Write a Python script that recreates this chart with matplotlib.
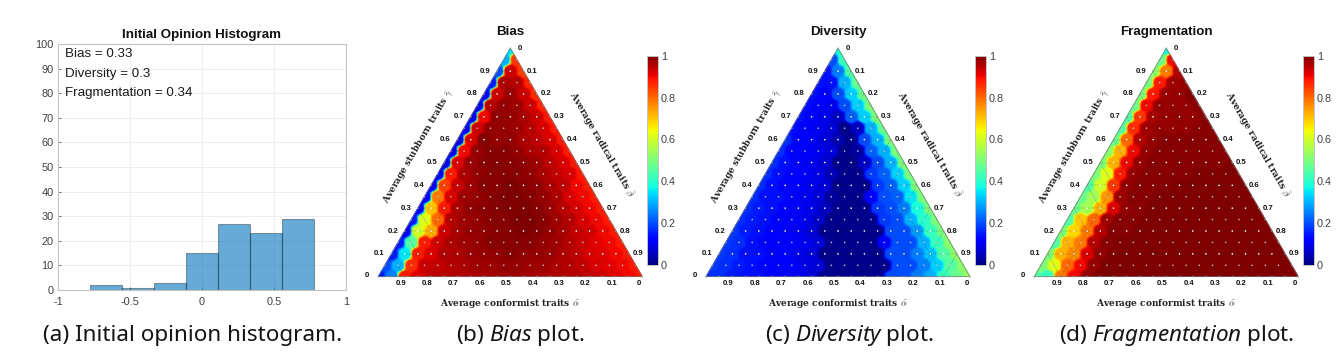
import numpy as np
import matplotlib
matplotlib.use("Agg")
import matplotlib.pyplot as plt
import matplotlib.tri as mtri

W, H = 1344, 361

# histogram
hist_edges = [-0.78, -0.557, -0.334, -0.111, 0.111, 0.334, 0.557, 0.78]
hist_counts = [2, 1, 3, 15, 27, 23, 29]
hist_notes = ["Bias = 0.33", "Diversity = 0.3", "Fragmentation = 0.34"]

# ternary values, one list per row from the apex down to the base
bias_rows = [
    [.35],
    [.3, .85],
    [.2, .93, .84],
    [.15, .96, .95, .87],
    [.12, .93, .97, .93, .86],
    [.1, .95, .98, .97, .93, .87],
    [.1, .9, .98, .98, .96, .93, .88],
    [.1, .93, .98, .98, .97, .95, .92, .88],
    [.1, .92, .99, .98, .98, .96, .94, .92, .88],
    [.1, .9, .98, .99, .99, .98, .96, .95, .92, .88],
    [.1, .92, .97, .99, .99, .99, .98, .97, .94, .92, .88],
    [.1, .88, .96, .98, .99, .99, .99, .98, .96, .94, .92, .88],
    [.12, .84, .93, .97, .99, .99, 1, .99, .98, .96, .94, .9, .88],
    [.12, .78, .92, .97, .98, .99, 1, 1, .99, .98, .96, .92, .9, .88],
    [.12, .7, .88, .96, .98, .99, .99, 1, 1, .99, .97, .95, .92, .9, .88],
    [.15, .62, .8, .95, .97, .98, .99, .99, 1, 1, .99, .97, .95, .92, .9, .88],
    [.1, .6, .72, .93, .96, .98, .98, .99, .99, 1, .99, .98, .96, .94, .92, .9, .88],
    [.15, .45, .88, .93, .96, .97, .98, .99, .99, .99, .99, .98, .97, .95, .93, .91, .9, .88],
    [.15, .35, .88, .92, .95, .96, .97, .98, .98, .99, .98, .98, .97, .96, .94, .92, .91, .9, .88],
    [.2, .3, .86, .93, .94, .95, .96, .97, .97, .98, .98, .97, .97, .96, .95, .94, .92, .91, .9, .88],
    [.15, .25, .88, .92, .94, .95, .95, .96, .96, .97, .97, .97, .96, .96, .95, .95, .94, .93, .91, .9, .88],
]
diversity_rows = [
    [.38],
    [.2, .42],
    [.14, .25, .45],
    [.14, .14, .3, .47],
    [.14, .11, .2, .33, .48],
    [.14, .11, .1, .2, .33, .5],
    [.14, .11, .1, .06, .22, .33, .5],
    [.14, .11, .1, .08, .015, .06, .3, .47],
    [.17, .12, .11, .08, .05, .015, .2, .3, .5],
    [.17, .12, .11, .1, .08, .015, .03, .22, .3, .5],
    [.17, .14, .11, .1, .08, .015, .015, .06, .2, .3, .5],
    [.17, .14, .12, .11, .09, .05, .015, .015, .18, .22, .33, .5],
    [.17, .14, .12, .11, .1, .08, .015, .015, .015, .18, .22, .33, .5],
    [.17, .14, .14, .11, .1, .08, .03, .015, .015, .12, .2, .22, .35, .5],
    [.17, .15, .14, .12, .11, .09, .06, .015, .015, .015, .18, .2, .25, .38, .5],
    [.17, .15, .14, .12, .11, .1, .07, .015, .015, .015, .015, .18, .2, .3, .4, .5],
    [.18, .15, .14, .12, .11, .1, .08, .015, .015, .015, .015, .015, .2, .2, .28, .42, .5],
    [.18, .17, .14, .12, .12, .11, .1, .08, .015, .015, .015, .015, .12, .2, .2, .3, .42, .52],
    [.18, .17, .14, .14, .12, .11, .1, .08, .015, .015, .015, .015, .015, .2, .2, .25, .32, .45, .52],
    [.18, .17, .15, .14, .12, .12, .11, .09, .08, .015, .015, .015, .015, .015, .2, .2, .25, .33, .45, .52],
    [.17, .17, .15, .14, .14, .12, .11, .1, .08, .015, .015, .015, .015, .015, .2, .2, .25, .3, .42, .48, .54],
]
fragmentation_rows = [
    [.38],
    [.48, .9],
    [.52, .78, .95],
    [.5, .88, .97, .98],
    [.5, .88, .97, .98, .99],
    [.48, .9, .98, .98, .98, .99],
    [.45, .85, .96, .98, .98, .98, .99],
    [.45, .86, .97, .98, .98, .98, .99, .99],
    [.48, .8, .95, .98, .99, .99, .99, .99, .99],
    [.52, .72, .9, .98, .99, .99, .99, .99, .99, .99],
    [.5, .72, .9, .98, .99, .99, .99, .99, .99, .99, 1],
    [.5, .62, .88, .98, .99, .99, .99, .99, 1, 1, 1, 1],
    [.45, .6, .85, .98, .99, .99, .99, 1, 1, 1, 1, 1, 1],
    [.48, .55, .75, .97, .99, .99, 1, 1, 1, 1, 1, 1, 1, 1],
    [.48, .55, .72, .92, .98, .99, 1, 1, 1, 1, 1, 1, 1, 1, 1],
    [.45, .7, .8, .97, .99, .99, 1, 1, 1, 1, 1, 1, 1, 1, 1, 1],
    [.5, .68, .78, .95, .99, .99, 1, 1, 1, 1, 1, 1, 1, 1, 1, 1, 1],
    [.45, .72, .78, .95, .99, 1, 1, 1, 1, 1, 1, 1, 1, 1, 1, 1, 1, 1],
    [.5, .72, .76, .92, .98, 1, 1, 1, 1, 1, 1, 1, 1, 1, 1, 1, 1, 1, 1],
    [.5, .62, .8, .9, .98, 1, 1, 1, 1, 1, 1, 1, 1, 1, 1, 1, 1, 1, 1, 1],
    [.45, .42, .78, .9, .98, 1, 1, 1, 1, 1, 1, 1, 1, 1, 1, 1, 1, 1, 1, 1, 1],
]

tern_ticks = [0.1, 0.2, 0.3, 0.4, 0.5, 0.6, 0.7, 0.8, 0.9]
cbar_ticks = [0, 0.2, 0.4, 0.6, 0.8, 1]

plt.rcParams["font.family"] = ["Liberation Sans", "DejaVu Sans"]
plt.rcParams["mathtext.fontset"] = "custom"
plt.rcParams["mathtext.rm"] = "Noto Sans"
plt.rcParams["mathtext.it"] = "Noto Sans:italic"

TICK = "#404040"
FRAME = "#c4c4c4"
SIDE = 264.0
ROOT3 = np.sqrt(3) / 2


def px_axes(fig, left, top, right, bottom):
    return fig.add_axes([left / W, 1 - bottom / H, (right - left) / W, (bottom - top) / H])


def plot_hist(fig):
    ax = px_axes(fig, 58, 44, 346, 290)
    ax.bar(hist_edges[:-1], hist_counts, width=np.diff(hist_edges), align="edge",
           color=(0, 0.447, 0.741, 0.6), edgecolor=(0, 0, 0, 0.35), linewidth=0.8, zorder=2)
    ax.set_xlim(-1, 1)
    ax.set_ylim(0, 100)
    ax.set_xticks([-1, -0.5, 0, 0.5, 1])
    ax.set_xticklabels(["-1", "-0.5", "0", "0.5", "1"])
    ax.set_yticks(range(0, 101, 10))
    ax.tick_params(labelsize=7.9, colors=TICK, length=2, width=0.5, direction="in", pad=3)
    ax.tick_params(axis="x", pad=5)
    ax.grid(color="#eeeeee", linewidth=0.7)
    ax.set_axisbelow(True)
    for s in ax.spines.values():
        s.set_color(FRAME)
    ax.set_title("Initial Opinion Histogram", fontsize=9.6, fontweight="bold", pad=4, color="#111111")
    for note, y in zip(hist_notes, [96, 88, 80]):
        ax.text(-0.95, y, note, fontsize=9.6, va="center", color="#1a1a1a")


def cell_field(fine, xs, ys, zs):
    # each fine point mostly takes the value of its nearest grid point
    dx = fine.x[:, None] - np.array(xs)[None, :]
    dy = fine.y[:, None] - np.array(ys)[None, :]
    d2 = dx ** 2 + dy ** 2 + 1e-9
    w = d2 ** -5.0
    return (w * np.array(zs)).sum(axis=1) / w.sum(axis=1)


def plot_ternary(fig, rows, title, left):
    # triangle base runs from left to left + SIDE, base at y=276.7, apex at y=48.3
    ax = px_axes(fig, left, 48.3, left + SIDE, 276.7)
    ax.set_xlim(0, 1)
    ax.set_ylim(0, ROOT3)
    ax.axis("off")

    n = len(rows) - 1
    xs, ys, zs, dots, index = [], [], [], [], {}
    for r, row in enumerate(rows):
        for j, v in enumerate(row):
            index[(r, j)] = len(xs)
            xs.append(0.5 + (j - r / 2) / n)
            ys.append((n - r) / n * ROOT3)
            zs.append(v)
            if j == 0 or j == r or r == n:
                dots.append("#999999")
            else:
                dots.append("white" if r % 2 == 0 else "#bbbbbb")
    tris = []
    for r in range(n):
        for j in range(r + 1):
            tris.append([index[(r, j)], index[(r + 1, j)], index[(r + 1, j + 1)]])
            if j < r:
                tris.append([index[(r, j)], index[(r + 1, j + 1)], index[(r, j + 1)]])
    tri = mtri.Triangulation(xs, ys, tris)
    fine = mtri.UniformTriRefiner(tri).refine_triangulation(subdiv=4)
    mesh = ax.tripcolor(fine, cell_field(fine, xs, ys, zs), shading="gouraud", cmap="jet", vmin=0, vmax=1)

    # grid lines every 0.1
    for t in tern_ticks:
        h = t * ROOT3
        line = dict(color="#333333", lw=0.35, alpha=0.55, ls=(0, (3, 2)))
        ax.plot([t / 2, 1 - t / 2], [h, h], **line)
        ax.plot([t, 0.5 + t / 2], [0, (1 - t) * ROOT3], **line)
        ax.plot([t, t / 2], [0, h], **line)
    ax.plot([0, 1, 0.5, 0], [0, 0, ROOT3, 0], color="#777777", lw=0.5, clip_on=False)
    ax.scatter(xs, ys, s=1.4, c=dots, edgecolors="none", zorder=3, clip_on=False)

    u = 1 / SIDE
    small = dict(fontsize=5.6, fontweight="bold", ha="center", va="center", color="#111111")
    for t in tern_ticks:
        ax.text(t / 2 - 12 * u, t * ROOT3, f"{t:.1f}", **small)
        ax.text(0.5 + t / 2 + 9 * u, (1 - t) * ROOT3, f"{t:.1f}", **small)
        ax.text(1 - t - 4 * u, -7 * u, f"{t:.1f}", **small)
    ax.text(-11 * u, 1 * u, "0", **small)
    ax.text(0.5 + 10 * u, ROOT3, "0", **small)
    ax.text(1 - 3.5 * u, -7 * u, "0", **small)

    lab = dict(fontsize=6.5, family="DejaVu Serif", fontweight="bold", ha="center", va="center",
               math_fontfamily="cm", color="#222222")
    ax.text(131.7 * u, -27 * u, r"Average conformist traits $\bar{\alpha}$", **lab)
    ax.text(40 * u, 130 * u, r"Average stubborn traits $\bar{\gamma}$", rotation=60, **lab)
    ax.text(223.3 * u, 131.7 * u, r"Average radical traits $\bar{\beta}$", rotation=-60, **lab)
    ax.text(0.5, 245 * u, title, fontsize=9.6, fontweight="bold", ha="center", va="center", color="#111111")

    cax = px_axes(fig, left + 269, 55.7, left + 280, 265)
    cb = fig.colorbar(mesh, cax=cax, ticks=cbar_ticks)
    cb.ax.set_yticklabels(["0", "0.2", "0.4", "0.6", "0.8", "1"])
    cb.ax.tick_params(labelsize=7.8, colors=TICK, length=0, pad=2)
    cb.outline.set_edgecolor(FRAME)
    cb.outline.set_linewidth(0.7)


def add_caption(fig, text, x):
    fig.text(x / W, 1 - 336 / H, text, fontsize=16.2, family="Noto Sans", ha="center", va="center",
             math_fontfamily="custom", color="#141414")


fig = plt.figure(figsize=(W / 100, H / 100), dpi=100)
plot_hist(fig)
plot_ternary(fig, bias_rows, "Bias", 378.3)
plot_ternary(fig, diversity_rows, "Diversity", 706)
plot_ternary(fig, fragmentation_rows, "Fragmentation", 1034.3)
add_caption(fig, "(a) Initial opinion histogram.", 193)
add_caption(fig, r"(b) $\mathit{Bias}$ plot.", 520.5)
add_caption(fig, r"(c) $\mathit{Diversity}$ plot.", 849)
add_caption(fig, r"(d) $\mathit{Fragmentation}$ plot.", 1176.7)
fig.savefig("out.png", dpi=100)
